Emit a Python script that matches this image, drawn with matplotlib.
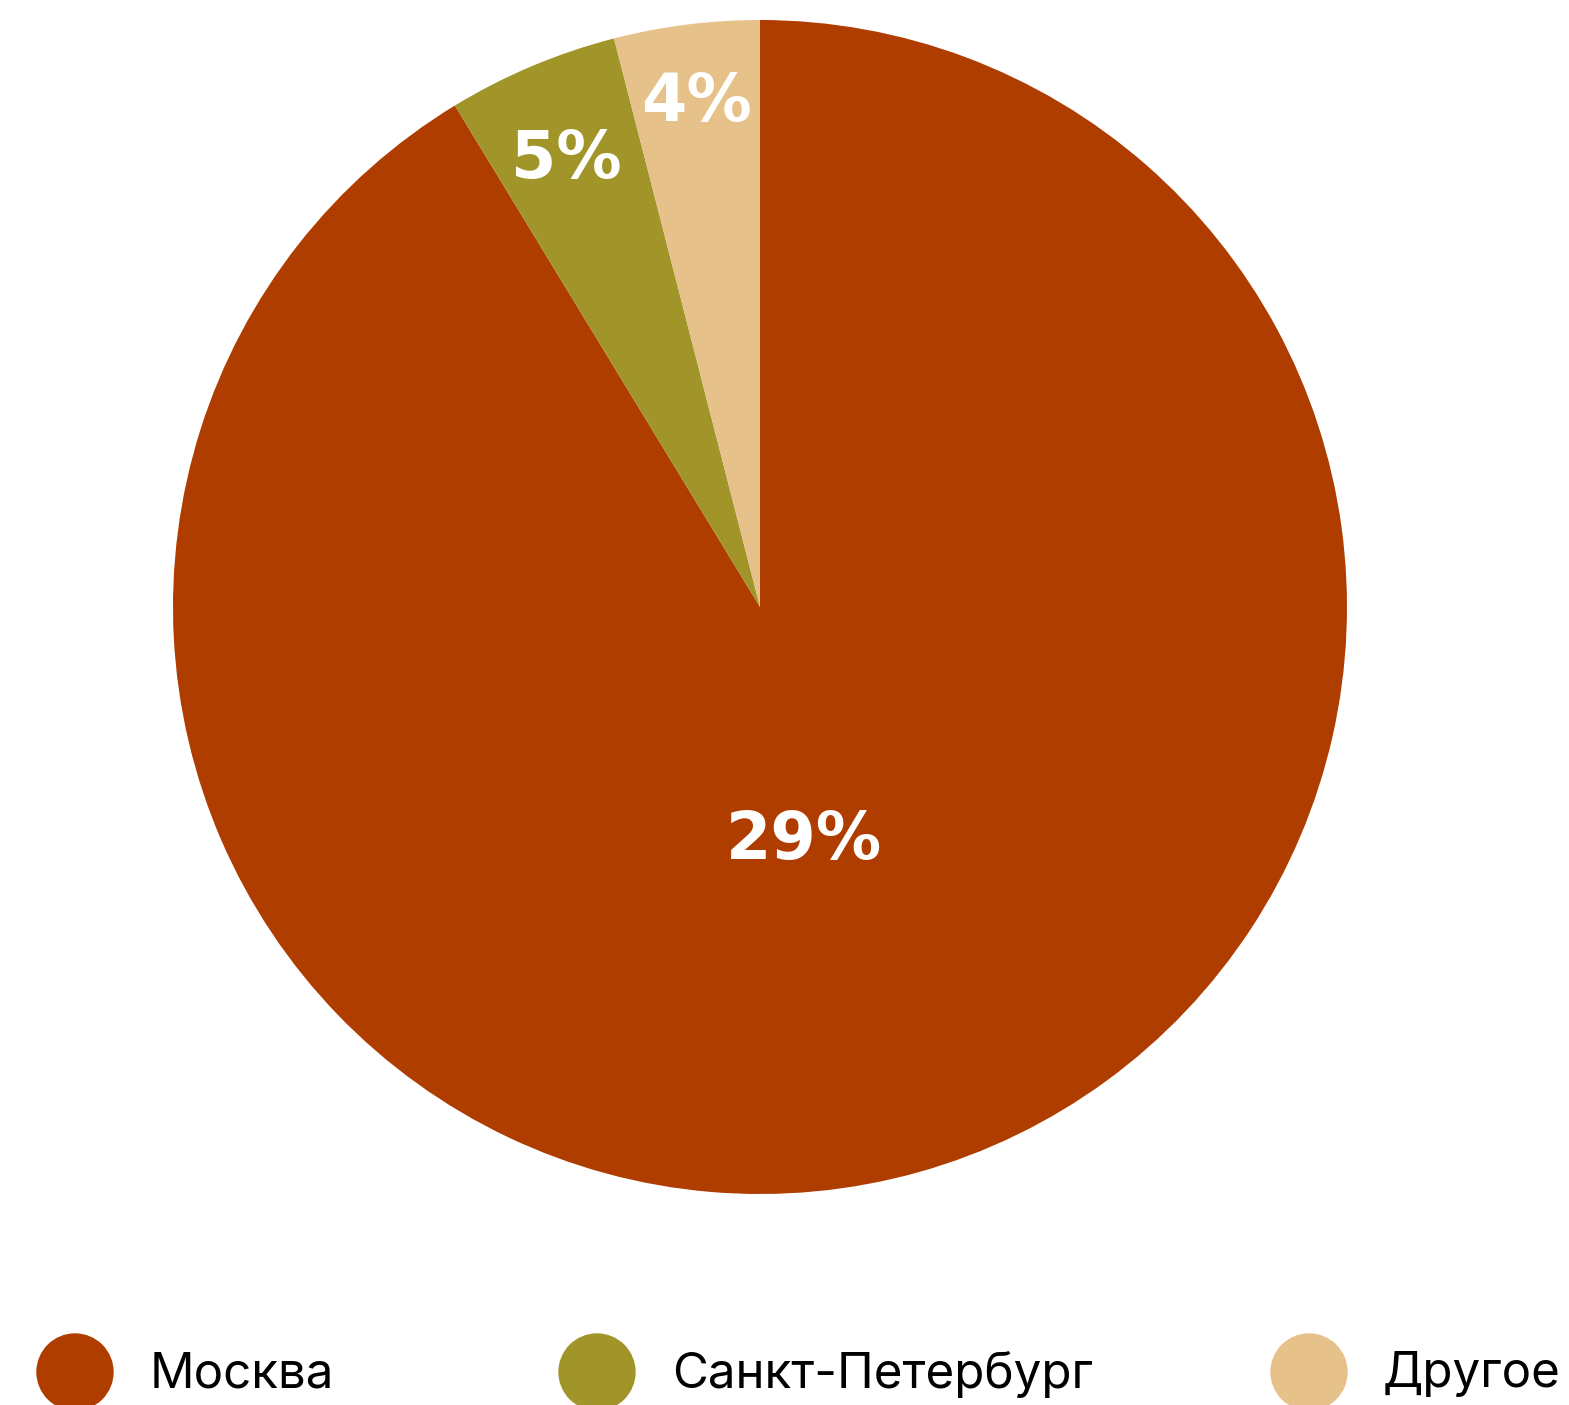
import numpy as np
import matplotlib.pyplot as plt
from matplotlib.patches import Circle

# wedge shares (as drawn) and the labels shown on them
categories = ['Москва', 'Санкт-Петербург', 'Другое']
shares = [91.3, 4.7, 4.0]
pct_labels = ['29%', '5%', '4%']
colors = ['#AF3D00', '#A1952A', '#E6C189']
label_dist = [0.405, 0.83, 0.865]
label_rot = [-5, 0.5, 0]

W, H = 1569, 1405
fig = plt.figure(figsize=(W / 100, H / 100), dpi=100)

# pie axes: centre (760, 607), radius 587 px
r = 587
cx, cy = 760, 607
ax = fig.add_axes([(cx - r) / W, 1 - (cy + r) / H, 2 * r / W, 2 * r / H])
wedges, _ = ax.pie(shares, colors=colors, startangle=90, counterclock=False,
                   wedgeprops=dict(linewidth=0))
ax.set_xlim(-1, 1)
ax.set_ylim(-1, 1)
ax.set_aspect('equal')
ax.axis('off')

for w, lab, d, da in zip(wedges, pct_labels, label_dist, label_rot):
    ang = np.deg2rad((w.theta1 + w.theta2) / 2 + da)
    ax.text(d * np.cos(ang), d * np.sin(ang), lab, ha='center', va='center',
            color='white', fontsize=47, fontweight='bold', family='DejaVu Sans')

# legend along the bottom (pixel coordinates, origin bottom-left)
marker_x = [75, 597, 1309]
text_x = [150, 672, 1383]
ly = 1372
for mx, tx, name, c in zip(marker_x, text_x, categories, colors):
    fig.add_artist(Circle((mx, H - ly), 38, color=c, transform=None))
    fig.text(tx / W, 1 - (ly + 2) / H, name, ha='left', va='center',
             fontsize=35.5, family='Inter', color='black')

fig.savefig('out.png', dpi=100)
